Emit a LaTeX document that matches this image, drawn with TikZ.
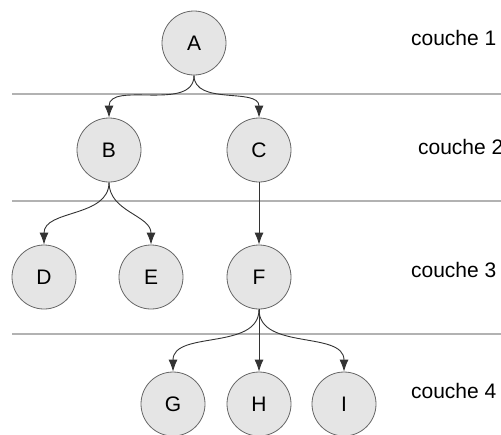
\documentclass[tikz,border=0pt]{standalone}
\usepackage{fontspec}
\setmainfont{Liberation Sans}
\usepackage{tikz}
\usetikzlibrary{arrows.meta}

\tikzset{
  noeud/.style={circle,draw=black!60,fill=black!10,minimum size=32pt,inner sep=0pt,font=\fontsize{10.5}{12}\selectfont},
  fleche/.style={-{Latex[length=6pt,width=4.5pt]},draw=black!80,line width=0.45pt},
  couche/.style={draw=black!30,line width=1.3pt},
  etiquette/.style={anchor=west,font=\fontsize{10.5}{12}\selectfont}
}

\begin{document}
\begin{tikzpicture}[x=0.5pt,y=-0.5pt]
      \useasboundingbox (0,0) rectangle (501,434);
      % separations entre couches
      \draw[couche] (12,94) -- (501,94);
      \draw[couche] (12,201) -- (501,201);
      \draw[couche] (12,334) -- (501,334);
      % noeuds
      \node[noeud] (A) at (194,43) {A};
      \node[noeud] (B) at (109,150) {B};
      \node[noeud] (C) at (259,150) {C};
      \node[noeud] (D) at (44,277) {D};
      \node[noeud] (E) at (151,277) {E};
      \node[noeud] (F) at (259,277) {F};
      \node[noeud] (G) at (173,404) {G};
      \node[noeud] (H) at (259,404) {H};
      \node[noeud] (I) at (344,404) {I};
      % aretes
      \draw[fleche] (A.south) to[out=-90,in=90] (B.north);
      \draw[fleche] (A.south) to[out=-90,in=90] (C.north);
      \draw[fleche] (B.south) to[out=-90,in=90] (D.north);
      \draw[fleche] (B.south) to[out=-90,in=90] (E.north);
      \draw[fleche] (C) -- (F);
      \draw[fleche] (F.south) to[out=-90,in=90] (G.north);
      \draw[fleche] (F) -- (H);
      \draw[fleche] (F.south) to[out=-90,in=90] (I.north);
      % couches
      \node[etiquette] (c1) at (404,38) {couche 1};
      \node[etiquette] (c2) at (411,147) {couche 2};
      \node[etiquette] (c3) at (404,270) {couche 3};
      \node[etiquette] (c4) at (404,391) {couche 4};
\end{tikzpicture}
\end{document}
